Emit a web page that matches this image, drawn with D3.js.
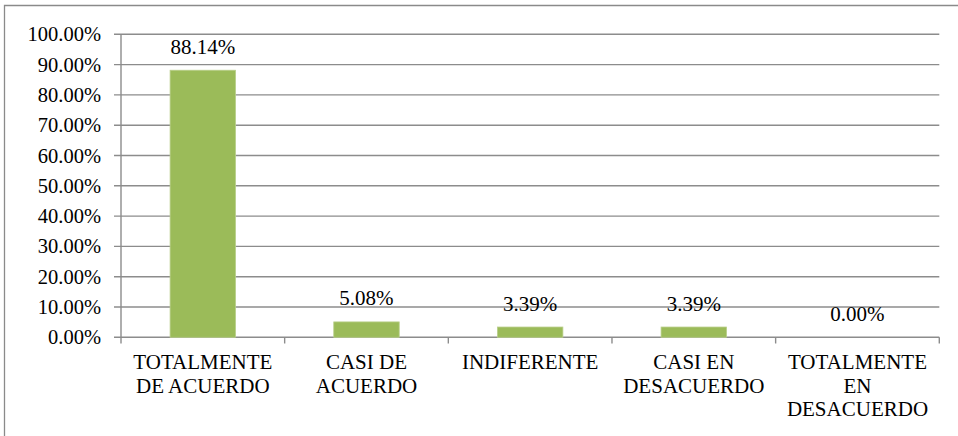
<!DOCTYPE html>
<html><head><meta charset="utf-8">
<script src="https://cdn.jsdelivr.net/npm/d3@7"></script>
</head><body style="margin:0;padding:0;background:#fff;overflow:hidden">
<svg id="c" width="958" height="436"></svg>
<script>
const categories = [["TOTALMENTE","DE ACUERDO"],["CASI DE","ACUERDO"],["INDIFERENTE"],["CASI EN","DESACUERDO"],["TOTALMENTE","EN","DESACUERDO"]];
const values = [0.8814, 0.0508, 0.0339, 0.0339, 0.0];
const yTicks = [0,0.1,0.2,0.3,0.4,0.5,0.6,0.7,0.8,0.9,1.0];

const svg = d3.select("#c");
const grid = "#8c8c8c";
const FONT = `"Liberation Serif"`;

// outer frame
svg.append("path").attr("d","M4.5,440 V5.5 H962").attr("fill","none").attr("stroke","#8a8a8a").attr("stroke-width",1.3);

const x = d3.scaleBand().domain(d3.range(categories.length)).range([121,939.3]).paddingInner(0).paddingOuter(0);
const y = d3.scaleLinear().domain([0,1]).range([337.3,34.3]);

// gridlines
svg.selectAll("line.grid").data(yTicks).join("line").attr("class","grid")
  .attr("x1",114).attr("x2",939.3)
  .attr("y1",d=>y(d)).attr("y2",d=>y(d))
  .attr("stroke",grid).attr("stroke-width",1.4);

// y axis line
svg.append("line").attr("x1",121).attr("x2",121).attr("y1",y(1)).attr("y2",343.5).attr("stroke",grid).attr("stroke-width",1.4);

// category ticks
const bounds = d3.range(1, categories.length+1).map(i => i < categories.length ? x(i) : x(categories.length-1)+x.bandwidth());
svg.selectAll("line.ctick").data(bounds).join("line").attr("class","ctick")
  .attr("x1",d=>d).attr("x2",d=>d).attr("y1",y(0)).attr("y2",343.5)
  .attr("stroke",grid).attr("stroke-width",1.4);

// bars
const bw = x.bandwidth()*0.4;
svg.selectAll("rect.bar").data(values).join("rect").attr("class","bar")
  .attr("x",(d,i)=>x(i)+x.bandwidth()/2-bw/2)
  .attr("width",bw)
  .attr("y",d=>y(d))
  .attr("height",d=>y(0)-y(d))
  .attr("fill","#9bbb59").attr("stroke","#b9cf8a").attr("stroke-width",0.8);

// y tick labels
svg.selectAll("text.ytick").data(yTicks).join("text").attr("class","ytick")
  .attr("x",101).attr("y",d=>Math.round(y(d)+7))
  .attr("text-anchor","end").style("font-family",FONT,"important").attr("font-size",20.5)
  .text(d=>d3.format(".2%")(d));

// data labels
svg.selectAll("text.dlabel").data(values).join("text").attr("class","dlabel")
  .attr("x",(d,i)=>x(i)+x.bandwidth()/2)
  .attr("y",d=>Math.round(y(d)-16.5))
  .attr("text-anchor","middle").style("font-family",FONT,"important").attr("font-size",21)
  .text(d=>d3.format(".2%")(d));

// category labels
const cl = svg.selectAll("text.cat").data(categories).join("text").attr("class","cat")
  .attr("text-anchor","middle").style("font-family",FONT,"important").attr("font-size",21);
cl.each(function(lines,i){
  const t = d3.select(this);
  lines.forEach((ln,k)=>{
    t.append("tspan").attr("x",x(i)+x.bandwidth()/2).attr("y",369+k*23.5).text(ln);
  });
});
</script>
</body></html>
